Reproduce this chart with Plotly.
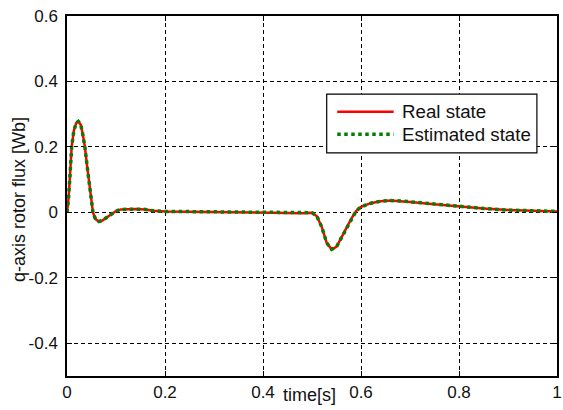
import plotly.graph_objects as go

# time [s]
time_s = [0.0, 0.003, 0.006, 0.0095, 0.014, 0.019, 0.023, 0.028, 0.032, 0.0365,
          0.042, 0.047, 0.053, 0.058, 0.065, 0.072, 0.08, 0.09, 0.1, 0.11,
          0.12, 0.14, 0.16, 0.175, 0.2, 0.25, 0.3, 0.35, 0.4, 0.42,
          0.45, 0.48, 0.5, 0.51, 0.52, 0.53, 0.54, 0.55, 0.56, 0.57,
          0.58, 0.59, 0.6, 0.62, 0.64, 0.66, 0.68, 0.7, 0.75, 0.8,
          0.85, 0.9, 0.95, 1.0]

real_state = [0.0, 0.04, 0.11, 0.2, 0.25, 0.274, 0.278, 0.268, 0.24, 0.2,
              0.13, 0.065, 0.0, -0.02, -0.028, -0.025, -0.016, -0.006, 0.004, 0.009,
              0.01, 0.01, 0.009, 0.005, 0.003, 0.002, 0.002, 0.002, 0.001, -0.001,
              -0.002, -0.003, -0.001, -0.012, -0.045, -0.093, -0.113, -0.105, -0.077, -0.047,
              -0.02, 0.004, 0.017, 0.028, 0.034, 0.036, 0.035, 0.032, 0.025, 0.018,
              0.012, 0.007, 0.004, 0.003]

estimated_state = [0.0, 0.04, 0.11, 0.2, 0.25, 0.274, 0.278, 0.268, 0.24, 0.2,
                   0.13, 0.065, 0.0, -0.02, -0.028, -0.025, -0.016, -0.006, 0.004, 0.009,
                   0.01, 0.01, 0.009, 0.005, 0.003, 0.002, 0.002, 0.002, 0.001, -0.001,
                   -0.002, -0.003, -0.001, -0.012, -0.045, -0.093, -0.113, -0.105, -0.077, -0.047,
                   -0.02, 0.004, 0.017, 0.028, 0.034, 0.036, 0.035, 0.032, 0.025, 0.018,
                   0.012, 0.007, 0.004, 0.003]

series_names = ["Real state", "Estimated state"]
series_colors = ["#ff0000", "#008000"]

x_ticks = [0, 0.2, 0.4, 0.6, 0.8, 1]
x_tick_labels = ["0", "0.2", "0.4", "0.6", "0.8", "1"]
y_ticks = [-0.4, -0.2, 0, 0.2, 0.4, 0.6]
y_tick_labels = ["-0.4", "-0.2", "0", "0.2", "0.4", "0.6"]

FONT = "Arial, Liberation Sans"
series_styles = [dict(color=series_colors[0], width=2.5),
                 dict(color=series_colors[1], width=3.5, dash="dot")]

fig = go.Figure()
fig.add_trace(go.Scatter(x=time_s, y=real_state, mode="lines", name=series_names[0],
                         line=series_styles[0], showlegend=False))
fig.add_trace(go.Scatter(x=time_s, y=estimated_state, mode="lines", name=series_names[1],
                         line=series_styles[1], showlegend=False))

axis_common = dict(
    showline=True, linecolor="black", linewidth=1.5, mirror="allticks",
    ticks="inside", ticklen=5, tickcolor="black", tickwidth=1,
    showgrid=True, gridcolor="black", gridwidth=1, griddash="4px,3px",
    zeroline=False, ticklabeloverflow="allow",
    tickfont=dict(family=FONT, size=17, color="#111111"),
)

fig.update_xaxes(range=[0, 1], tickvals=x_ticks, ticktext=x_tick_labels,
                 ticklabelstandoff=0, **axis_common)
fig.update_yaxes(range=[-0.5, 0.6], tickvals=y_ticks, ticktext=y_tick_labels,
                 ticklabelstandoff=4, **axis_common)

fig.add_annotation(text="time[s]", xref="paper", yref="paper", x=0.495, y=0,
                   xanchor="center", yanchor="top", yshift=-7, showarrow=False,
                   font=dict(family=FONT, size=18, color="#111111"))
fig.add_annotation(text="q-axis rotor flux [Wb]", xref="paper", yref="paper",
                   x=-0.099, y=0.49, xanchor="center", yanchor="middle",
                   textangle=-90, showarrow=False,
                   font=dict(family=FONT, size=18, color="#111111"))

# legend box drawn in paper coordinates
fig.add_shape(type="rect", xref="paper", yref="paper", x0=0.530, x1=0.959,
              y0=0.620, y1=0.783, line=dict(color="black", width=1.2),
              fillcolor="white", layer="above")
legend_rows_y = [0.734, 0.6714]
for name, style, ry in zip(series_names, series_styles, legend_rows_y):
    fig.add_shape(type="line", xref="paper", yref="paper", x0=0.5515, x1=0.6667,
                  y0=ry, y1=ry, line=style, layer="above")
    fig.add_annotation(text=name, xref="paper", yref="paper", x=0.6788, y=ry,
                       xanchor="left", yanchor="middle", showarrow=False,
                       font=dict(family=FONT, size=18.7, color="#111111"))

fig.update_layout(
    width=563, height=410,
    margin=dict(l=67, r=1, t=16, b=34),
    plot_bgcolor="white", paper_bgcolor="white",
    showlegend=False,
)

fig.write_html("out.html", config={"displayModeBar": False},
               post_script="document.body.style.margin='0';document.body.style.overflow='hidden';")
